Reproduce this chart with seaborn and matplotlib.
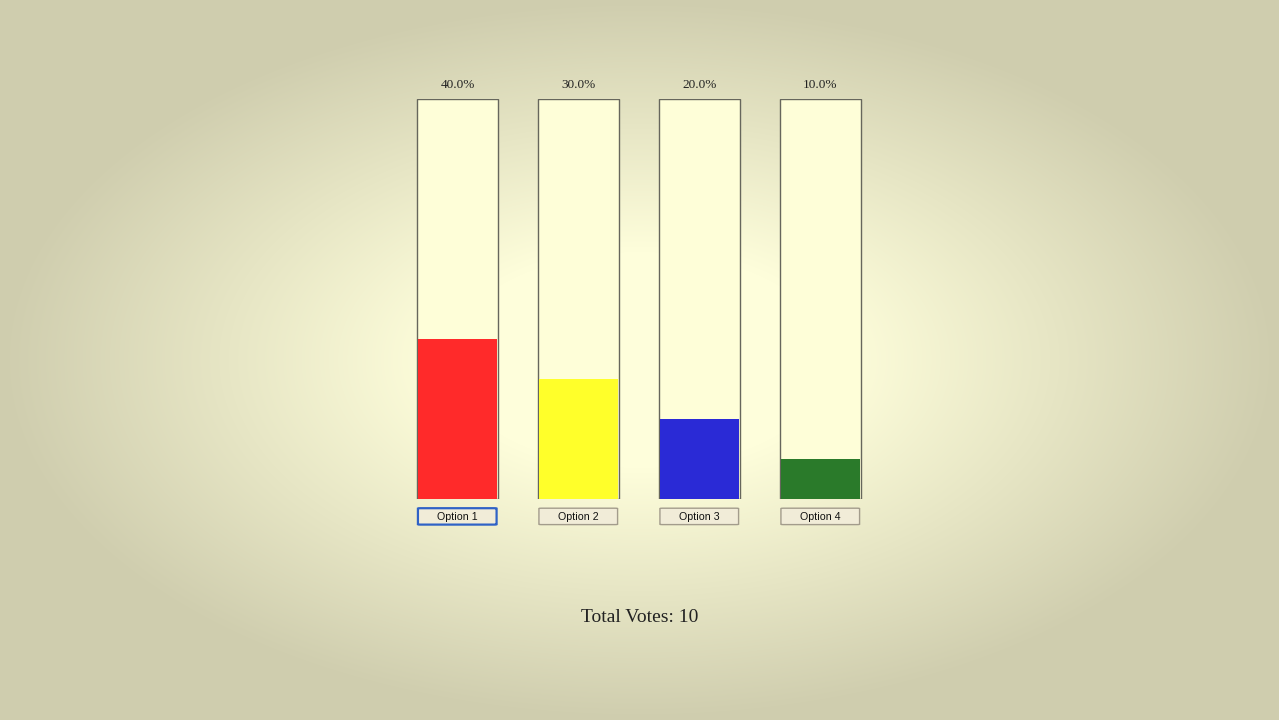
import numpy as np
import pandas as pd
import seaborn as sns
from matplotlib import pyplot as plt
from matplotlib.patches import FancyBboxPatch
from matplotlib.colors import to_rgb

# poll data
options = ["Option 1", "Option 2", "Option 3", "Option 4"]
votes = [4, 3, 2, 1]
bar_colors = ["#ff2a2a", "#ffff2a", "#2a2ad6", "#2a7a2a"]

total = sum(votes)
percent = [100 * v / total for v in votes]
df = pd.DataFrame({"option": options, "percent": percent, "full": [100] * len(options)})

W, H = 1279, 720
fig = plt.figure(figsize=(W / 100, H / 100), dpi=100)

# radial gradient background (bright plateau in the middle, darker toward edges)
bg = fig.add_axes([0, 0, 1, 1])
xx, yy = np.meshgrid(np.linspace(-1, 1, W), np.linspace(-1, 1, H))
r = np.sqrt(xx ** 2 + yy ** 2)
t = np.clip((r - 0.3) / 0.7, 0, 1)
c0 = np.array(to_rgb("#fefedb"))
c1 = np.array(to_rgb("#cfcdae"))
img = c0 + (c1 - c0) * t[..., None]
bg.imshow(img, aspect="auto", extent=[0, 1, 0, 1])
bg.set_axis_off()

# main axes: 4 px per percent, bars centred ~121 px apart
ax = fig.add_axes([397 / W, (H - 499) / H, 484 / W, 400 / H])
ax.patch.set_alpha(0)

sns.barplot(data=df, x="option", y="full", color="#fefed8", saturation=1, width=0.67,
            edgecolor="#66665c", linewidth=1.0, ax=ax, zorder=1)
sns.barplot(data=df, x="option", y="percent", hue="option", palette=bar_colors,
            saturation=1, width=0.655, linewidth=0, legend=False, ax=ax, zorder=2)

ax.set_xlim(-0.5, len(options) - 0.5)
ax.set_ylim(0, 100)
ax.set_axis_off()

for i, (opt, p) in enumerate(zip(options, percent)):
    ax.text(i, 103.4, f"{p:.1f}%", ha="center", va="center", fontsize=9.5,
            family="Liberation Serif", color="#222222", clip_on=False)
    edge = "#2f62c6" if i == 0 else "#a39c8c"
    lw = 1.6 if i == 0 else 1.0
    btn = FancyBboxPatch((i - 0.327, -6.4), 0.65, 4.1,
                         boxstyle="round,pad=0,rounding_size=0.02",
                         mutation_aspect=4.0,
                         facecolor="#f1ecd8", edgecolor=edge, linewidth=lw,
                         clip_on=False, zorder=3)
    ax.add_patch(btn)
    ax.text(i - 0.005, -4.55, opt, ha="center", va="center", fontsize=7.7,
            family="Liberation Sans", color="#111111", clip_on=False, zorder=4)

fig.text(0.5, 1 - 618 / H, f"Total Votes: {total}", ha="center", va="center",
         fontsize=14, family="Liberation Serif", color="#222222")

fig.savefig("out.png", dpi=100)
